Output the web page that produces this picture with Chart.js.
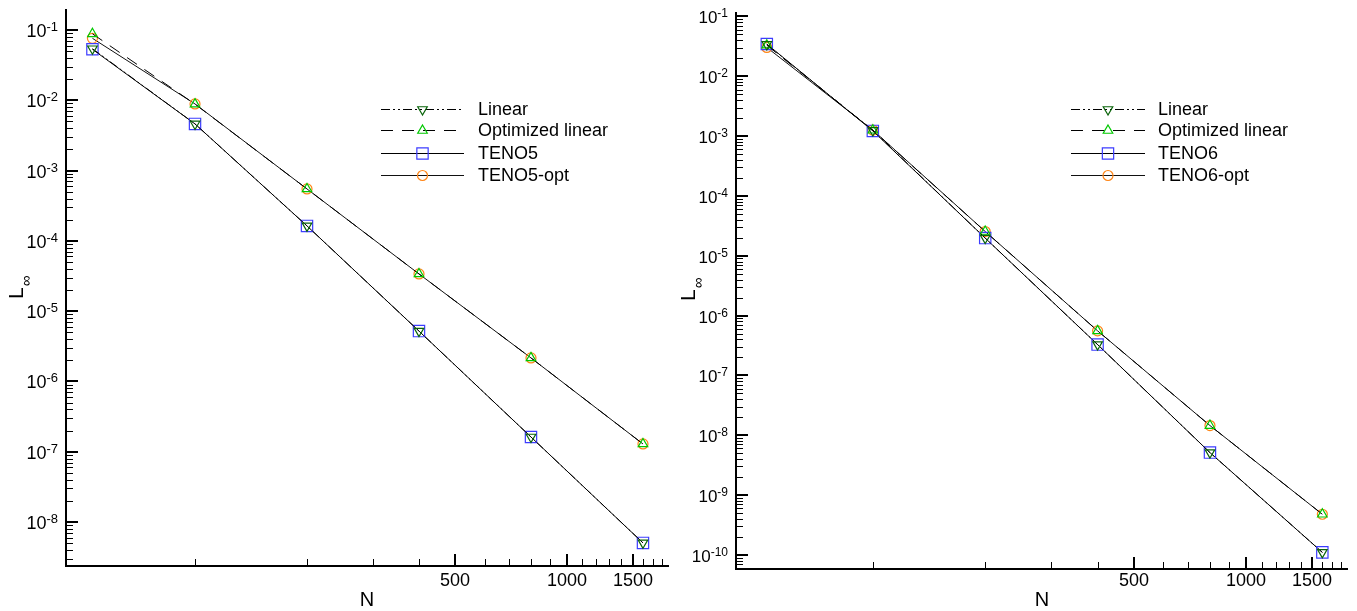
<!DOCTYPE html>
<html lang="en">
<head>
  <meta charset="UTF-8">
  <title>L-infinity error vs N</title>
  <script src="https://cdn.jsdelivr.net/npm/chart.js"></script>
  <style>
    html, body {
      margin: 0;
      padding: 0;
      background: #fff;
    }
    .wrap {
      position: relative;
      width: 1357px;
      height: 611px;
      overflow: hidden;
    }
    canvas {
      position: absolute;
      top: 0;
    }
    #leftChart { left: 0; }
    #rightChart { left: 676px; }
  </style>
</head>
<body>
<div class="wrap">
  <canvas id="leftChart" width="678" height="611"></canvas>
  <canvas id="rightChart" width="681" height="611"></canvas>
</div>
<script>
  // grid sizes (x values)
  const nLeft = [53, 100, 200, 400, 800, 1600];
  const nRight = [52, 100, 200, 400, 800, 1600];

  // left panel: 5th order schemes
  const linearLeft = [0.054, 0.0046, 1.63e-4, 5.2e-6, 1.62e-7, 5.05e-9];
  const optLinearLeft = [0.088, 0.0088, 5.47e-4, 3.38e-5, 2.16e-6, 1.29e-7];
  const teno5 = [0.053, 0.0046, 1.63e-4, 5.2e-6, 1.62e-7, 5.05e-9];
  const teno5opt = [0.076, 0.00885, 5.47e-4, 3.38e-5, 2.16e-6, 1.29e-7];

  // right panel: 6th order schemes
  const linearRight = [0.034, 1.24e-3, 1.97e-5, 3.27e-7, 5.12e-9, 1.1e-10];
  const optLinearRight = [0.033, 1.25e-3, 2.54e-5, 5.55e-7, 1.45e-8, 4.77e-10];
  const teno6 = [0.0345, 1.22e-3, 1.97e-5, 3.27e-7, 5.12e-9, 1.1e-10];
  const teno6opt = [0.0303, 1.26e-3, 2.54e-5, 5.55e-7, 1.45e-8, 4.77e-10];

  const namesLeft = ['Linear', 'Optimized linear', 'TENO5', 'TENO5-opt'];
  const namesRight = ['Linear', 'Optimized linear', 'TENO6', 'TENO6-opt'];

  // axis ticks
  const xTicks = [100, 200, 300, 400, 500, 600, 700, 800, 900, 1000, 1100, 1200, 1300, 1400, 1500, 1600, 1700, 1800];
  const xMajor = [500, 1000, 1500];
  const yDecades = [-11, -10, -9, -8, -7, -6, -5, -4, -3, -2, -1];

  const FONT = '"Liberation Sans", Arial, Helvetica, sans-serif';

  function makeSets(n, lin, opt, teno, tenoOpt, names) {
    const pts = arr => n.map((x, i) => ({x: x, y: arr[i]}));
    return [
      {
        label: names[0], data: pts(lin),
        borderColor: '#000', borderWidth: 1, borderDash: [9, 3, 2, 3, 2, 3],
        pointStyle: 'triangle', pointRotation: 180, pointRadius: 5.5,
        pointBorderColor: '#0a640a', pointBackgroundColor: 'rgba(0,0,0,0)', pointBorderWidth: 1.2
      },
      {
        label: names[1], data: pts(opt),
        borderColor: '#000', borderWidth: 1, borderDash: [12, 9],
        pointStyle: 'triangle', pointRotation: 0, pointRadius: 5.5,
        pointBorderColor: '#00c800', pointBackgroundColor: 'rgba(0,0,0,0)', pointBorderWidth: 1.2
      },
      {
        label: names[2], data: pts(teno),
        borderColor: '#000', borderWidth: 1, borderDash: [],
        pointStyle: 'rect', pointRotation: 0, pointRadius: 8,
        pointBorderColor: '#3c3cff', pointBackgroundColor: 'rgba(0,0,0,0)', pointBorderWidth: 1.2
      },
      {
        label: names[3], data: pts(tenoOpt),
        borderColor: '#111', borderWidth: 1, borderDash: [],
        pointStyle: 'circle', pointRotation: 0, pointRadius: 5,
        pointBorderColor: '#ff8516', pointBackgroundColor: 'rgba(0,0,0,0)', pointBorderWidth: 1.2
      }
    ];
  }

  function isPow10(v) {
    const l = Math.log10(v);
    return Math.abs(l - Math.round(l)) < 1e-9;
  }

  // tick marks (inward), tick labels with superscripts, axis titles and legend
  const decoPlugin = {
    id: 'deco',
    afterDraw(chart, args, o) {
      const ctx = chart.ctx;
      const {left, top, bottom, right} = chart.chartArea;
      const xs = chart.scales.x, ys = chart.scales.y;
      ctx.save();
      ctx.strokeStyle = '#000';
      ctx.fillStyle = '#000';

      // y axis
      ys.ticks.forEach(t => {
        const py = Math.round(ys.getPixelForValue(t.value));
        const major = isPow10(t.value);
        ctx.lineWidth = major ? 2 : 1;
        const yy = major ? py : py + 0.5;
        ctx.beginPath();
        ctx.moveTo(left, yy);
        ctx.lineTo(left + (major ? 12 : 7), yy);
        ctx.stroke();
        if (major) {
          const e = String(Math.round(Math.log10(t.value)));
          ctx.font = o.expFont + 'px ' + FONT;
          const we = ctx.measureText(e).width;
          ctx.font = o.baseFont + 'px ' + FONT;
          const wb = ctx.measureText('10').width;
          const xr = left - 8;
          ctx.textAlign = 'left';
          ctx.textBaseline = 'alphabetic';
          ctx.fillText('10', xr - we - wb, py + 7);
          ctx.font = o.expFont + 'px ' + FONT;
          ctx.fillText(e, xr - we, py + 0.5);
        }
      });

      // x axis
      xs.ticks.forEach(t => {
        const px = Math.round(xs.getPixelForValue(t.value));
        const major = xMajor.includes(t.value);
        ctx.lineWidth = major ? 2 : 1;
        const xx = major ? px : px + 0.5;
        ctx.beginPath();
        ctx.moveTo(xx, bottom);
        ctx.lineTo(xx, bottom - (major ? 12 : 7));
        ctx.stroke();
        if (major) {
          ctx.font = '18px ' + FONT;
          ctx.textAlign = 'center';
          ctx.textBaseline = 'alphabetic';
          ctx.fillText(String(t.value), px, o.xLabelY);
        }
      });

      // x title
      ctx.font = '20px ' + FONT;
      ctx.textAlign = 'center';
      ctx.fillText('N', (left + right) / 2, 606);

      // y title: L with subscript infinity, rotated
      ctx.save();
      ctx.translate(o.titleX, o.titleY);
      ctx.rotate(-Math.PI / 2);
      ctx.textAlign = 'left';
      ctx.font = '21px ' + FONT;
      ctx.fillText('L', 0, 0);
      const wl = ctx.measureText('L').width;
      ctx.font = '15px ' + FONT;
      ctx.fillText('\u221E', wl + 1, 8);
      ctx.restore();

      // legend
      const rows = [109, 130, 153, 175];
      chart.data.datasets.forEach((ds, i) => {
        const y = rows[i] + 0.5;
        ctx.strokeStyle = ds.borderColor;
        ctx.lineWidth = 1;
        ctx.setLineDash(ds.borderDash || []);
        ctx.beginPath();
        ctx.moveTo(o.legX0, y);
        ctx.lineTo(o.legX1, y);
        ctx.stroke();
        ctx.setLineDash([]);
        ctx.strokeStyle = ds.pointBorderColor;
        ctx.fillStyle = 'rgba(0,0,0,0)';
        ctx.lineWidth = ds.pointBorderWidth;
        Chart.helpers.drawPoint(ctx, {
          pointStyle: ds.pointStyle, rotation: ds.pointRotation,
          radius: ds.pointRadius, borderWidth: ds.pointBorderWidth
        }, (o.legX0 + o.legX1) / 2, y);
        ctx.fillStyle = '#000';
        ctx.font = '18px ' + FONT;
        ctx.textAlign = 'left';
        ctx.textBaseline = 'middle';
        ctx.fillText(ds.label, o.legText, rows[i] + 1);
      });
      ctx.restore();
    }
  };

  function yTickValues(min, max) {
    const out = [];
    yDecades.forEach(e => {
      for (let m = 1; m <= 9; m++) {
        const v = m * Math.pow(10, e);
        if (v >= min && v <= max) out.push(v);
      }
    });
    return out;
  }

  function build(id, sets, cfg) {
    new Chart(document.getElementById(id), {
      type: 'line',
      data: {datasets: sets},
      options: {
        responsive: false,
        animation: false,
        layout: {padding: {left: 0, top: cfg.top, right: cfg.right, bottom: 0}},
        plugins: {
          legend: {display: false},
          tooltip: {enabled: false},
          deco: cfg.deco
        },
        scales: {
          x: {
            type: 'logarithmic',
            min: cfg.xMin, max: cfg.xMax,
            grid: {display: false},
            border: {display: true, color: '#000', width: 2},
            ticks: {display: false},
            afterBuildTicks: s => { s.ticks = xTicks.map(v => ({value: v})); },
            afterFit: s => { s.height = cfg.xHeight; }
          },
          y: {
            type: 'logarithmic',
            min: cfg.yMin, max: cfg.yMax,
            grid: {display: false},
            border: {display: true, color: '#000', width: 2},
            ticks: {display: false},
            afterBuildTicks: s => { s.ticks = yTickValues(cfg.yMin, cfg.yMax).map(v => ({value: v})); },
            afterFit: s => { s.width = cfg.yWidth; }
          }
        }
      },
      plugins: [decoPlugin]
    });
  }

  build('leftChart', makeSets(nLeft, linearLeft, optLinearLeft, teno5, teno5opt, namesLeft), {
    top: 10, right: 10, xHeight: 45, yWidth: 66,
    xMin: 45, xMax: 1868, yMin: 2.37e-9, yMax: 0.192,
    deco: {baseFont: 18, expFont: 13, xLabelY: 586, titleX: 23, titleY: 299,
           legX0: 381, legX1: 464, legText: 478}
  });

  build('rightChart', makeSets(nRight, linearRight, optLinearRight, teno6, teno6opt, namesRight), {
    top: 13, right: 7, xHeight: 42, yWidth: 60,
    xMin: 43, xMax: 1872, yMin: 5.8e-11, yMax: 0.114,
    deco: {baseFont: 17, expFont: 12, xLabelY: 586, titleX: 19, titleY: 301,
           legX0: 395, legX1: 469, legText: 482}
  });
</script>
</body>
</html>
